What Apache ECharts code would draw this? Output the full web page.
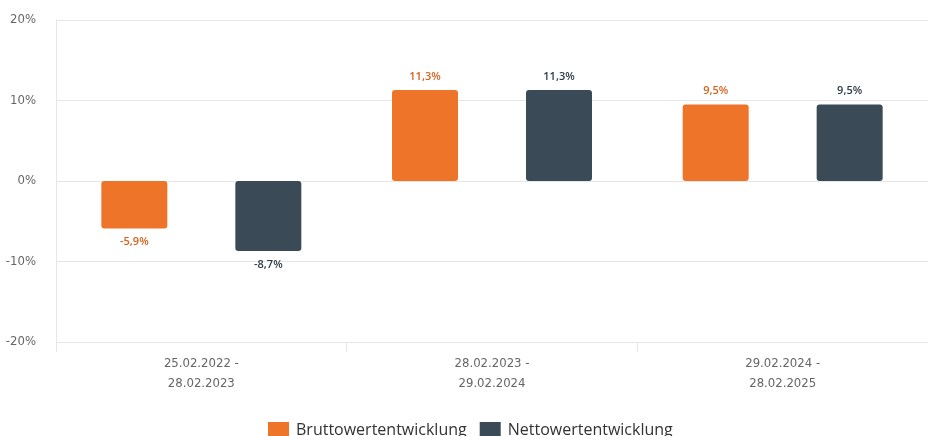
<!DOCTYPE html>
<html>
<head>
<meta charset="utf-8">
<script src="https://cdn.jsdelivr.net/npm/echarts@6/dist/echarts.min.js"></script>
<style>
html,body{margin:0;padding:0;background:#fff;}
#chart{width:928px;height:436px;}
</style>
</head>
<body>
<div id="chart"></div>
<script>
var categories = ['25.02.2022 -\n28.02.2023', '28.02.2023 -\n29.02.2024', '29.02.2024 -\n28.02.2025'];
var brutto = [-5.9, 11.3, 9.5];
var netto = [-8.7, 11.3, 9.5];
var seriesNames = ['Bruttowertentwicklung', 'Nettowertentwicklung'];

function fmt(p) {
	return p.value.toFixed(1).replace('.', ',') + '%';
}

var axisFont = "'DejaVu Sans Condensed', 'Roboto', sans-serif";

var myChart = echarts.init(document.getElementById('chart'));
myChart.setOption({
	animation: false,
	grid: { left: 56, right: 0, top: 20, bottom: 94 },
	legend: {
		bottom: -8,
		left: 263,
		itemWidth: 21,
		itemHeight: 17,
		itemGap: 13,
		icon: 'rect',
		textStyle: { fontFamily: 'Open Sans', fontSize: 16, color: '#333', padding: [0, 0, 0, 2] },
		data: seriesNames
	},
	xAxis: {
		type: 'category',
		data: categories,
		axisLine: { show: false, onZero: false },
		axisTick: { show: true, length: 10, lineStyle: { color: '#e6e6e6' } },
		axisLabel: { fontFamily: axisFont, fontSize: 13, color: '#666', lineHeight: 20, margin: 12 }
	},
	yAxis: {
		type: 'value',
		min: -20,
		max: 20,
		interval: 10,
		axisLine: { show: true, lineStyle: { color: '#e6e6e6' } },
		axisTick: { show: false },
		splitLine: { lineStyle: { color: '#e6e6e6' } },
		axisLabel: {
			fontFamily: axisFont, fontSize: 13, color: '#666', margin: 20,
			formatter: function (v) { return v + '%'; }
		}
	},
	series: [
		{
			name: seriesNames[0],
			type: 'bar',
			data: brutto,
			barWidth: 66,
			barGap: '103%',
			itemStyle: { color: '#ee7429', borderRadius: 3 },
			label: {
				show: true, position: 'outside', distance: 8, formatter: fmt,
				fontFamily: 'Open Sans', fontSize: 11, fontWeight: 600, color: '#d4621d'
			}
		},
		{
			name: seriesNames[1],
			type: 'bar',
			data: netto,
			barWidth: 66,
			itemStyle: { color: '#3a4a56', borderRadius: 3 },
			label: {
				show: true, position: 'outside', distance: 8, formatter: fmt,
				fontFamily: 'Open Sans', fontSize: 11, fontWeight: 600, color: '#2e3b46'
			}
		}
	]
});
</script>
</body>
</html>
